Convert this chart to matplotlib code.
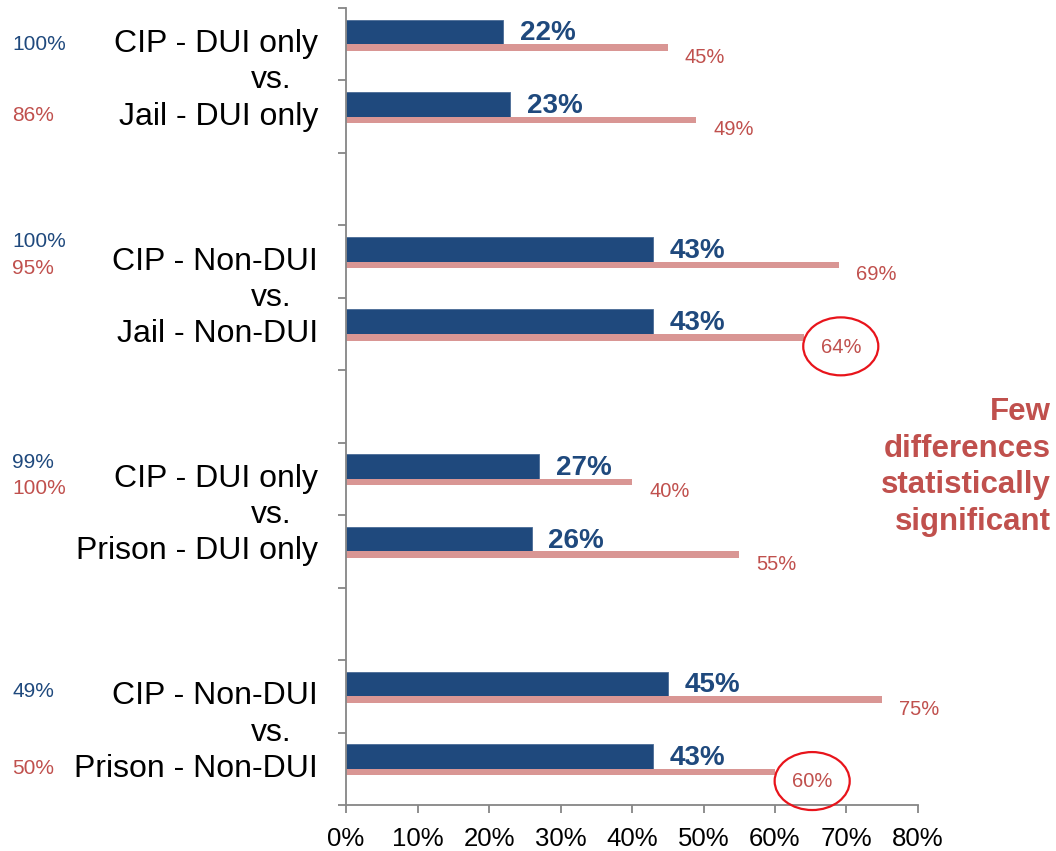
import matplotlib
matplotlib.use("Agg")
import matplotlib.pyplot as plt
from matplotlib.patches import Ellipse
import matplotlib.transforms as mtransforms

plt.rcParams['font.family'] = ['Liberation Sans', 'DejaVu Sans']

# data
categories = ["CIP - DUI only", "Jail - DUI only",
              "CIP - Non-DUI", "Jail - Non-DUI",
              "CIP - DUI only", "Prison - DUI only",
              "CIP - Non-DUI", "Prison - Non-DUI"]
blue_vals = [22, 23, 43, 43, 27, 26, 45, 43]
pink_vals = [45, 49, 69, 64, 40, 55, 75, 60]
side_blue = ["100%", "100%", "99%", "49%"]
side_pink = ["86%", "95%", "100%", "50%"]
circled = [3, 7]
xticks = [0, 10, 20, 30, 40, 50, 60, 70, 80]
note = "Few\ndifferences\nstatistically\nsignificant"

# layout
slots = [0, 1, 3, 4, 6, 7, 9, 10]
side_blue_y = [0.0, 2.72, 5.77, 8.93]
side_pink_y = [0.98, 3.09, 6.13, 9.99]

BLUE = "#1F497D"
PINK = "#D99694"
PINK_TXT = "#C0504D"
GRAY = "#868686"

fig = plt.figure(figsize=(10.56, 8.51), dpi=100)
ax = fig.add_axes([0.3277, 0.0541, 0.5416, 0.9365])

blue_y = [s - 0.17 for s in slots]
pink_y = [s + 0.045 for s in slots]
ax.barh(blue_y, blue_vals, height=0.34, color=BLUE, edgecolor="#4a6b96", linewidth=0.6)
ax.barh(pink_y, pink_vals, height=0.09, color=PINK, linewidth=0)

for s, b, p in zip(slots, blue_vals, pink_vals):
    ax.text(b + 2.3, s - 0.15, f"{b}%", color=BLUE, fontsize=20, fontweight="bold",
            ha="left", va="center")
    ax.text(p + 2.4, s + 0.18, f"{p}%", color=PINK_TXT, fontsize=14.5,
            ha="left", va="center")

for i in circled:
    ell = Ellipse((pink_vals[i] + 5.2, slots[i] + 0.17), 10.5, 0.8, fill=False,
                  edgecolor="#E8141B", linewidth=1.6, clip_on=False, zorder=5)
    ax.add_patch(ell)

trans = mtransforms.blended_transform_factory(ax.transAxes, ax.transData)
for k in range(0, len(categories), 2):
    ax.text(-0.049, slots[k], categories[k], transform=trans, ha="right", va="center",
            fontsize=23, color="black")
    ax.text(-0.096, (slots[k] + slots[k + 1]) / 2, "vs.", transform=trans, ha="right",
            va="center", fontsize=23, color="black")
    ax.text(-0.049, slots[k + 1], categories[k + 1], transform=trans, ha="right",
            va="center", fontsize=23, color="black")

for lab, y in zip(side_blue, side_blue_y):
    ax.text(-0.584, y, lab, transform=trans, ha="left", va="center", fontsize=15, color=BLUE)
for lab, y in zip(side_pink, side_pink_y):
    ax.text(-0.584, y, lab, transform=trans, ha="left", va="center", fontsize=15, color=PINK_TXT)

fig.text(0.9955, 1 - 467 / 851, note, ha="right", va="center", fontsize=22.5,
         fontweight="bold", color=PINK_TXT, linespacing=1.3)

ax.set_xlim(0, 80)
ax.set_ylim(10.5, -0.5)
ax.set_xticks(xticks)
ax.set_xticklabels([f"{t}%" for t in xticks], fontsize=18.5)
ax.set_yticks([s - 0.5 for s in range(12)])
ax.set_yticklabels([])
ax.tick_params(axis="x", length=6, width=1.3, color=GRAY, pad=10)
ax.tick_params(axis="y", length=6, width=1.3, color=GRAY)
for side in ["top", "right"]:
    ax.spines[side].set_visible(False)
for side in ["left", "bottom"]:
    ax.spines[side].set_color(GRAY)
    ax.spines[side].set_linewidth(1.3)

fig.savefig("out.png", dpi=100)
